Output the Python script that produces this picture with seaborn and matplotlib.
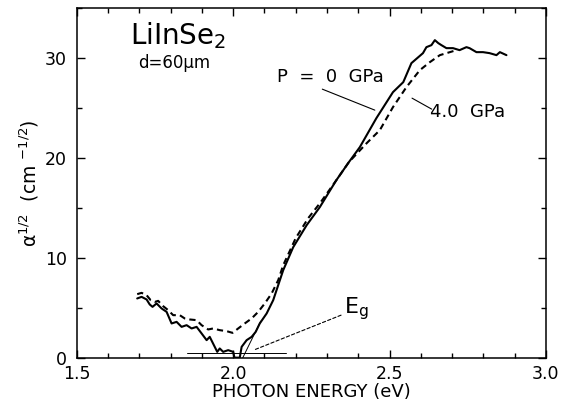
import matplotlib
matplotlib.use("Agg")
import matplotlib.pyplot as plt
from matplotlib.ticker import MultipleLocator
import seaborn as sns
import pandas as pd

# ---- data ----
p0_energy = [1.693, 1.707, 1.723, 1.733, 1.742, 1.755, 1.771, 1.787, 1.803, 1.819,
             1.835, 1.851, 1.867, 1.883, 1.899, 1.915, 1.925, 1.941, 1.949, 1.957,
             1.968, 1.984, 2.000, 2.004, 2.021, 2.027, 2.043, 2.059, 2.072, 2.085,
             2.107, 2.128, 2.144, 2.160, 2.192, 2.235, 2.277, 2.330, 2.370, 2.405,
             2.458, 2.511, 2.544, 2.570, 2.607, 2.618, 2.634, 2.645, 2.656, 2.666,
             2.682, 2.703, 2.724, 2.746, 2.756, 2.778, 2.799, 2.820, 2.842, 2.853,
             2.874]
p0_alpha = [5.97, 6.13, 5.87, 5.37, 5.13, 5.47, 4.97, 4.63, 3.47, 3.63,
            3.13, 3.30, 2.97, 3.13, 2.47, 1.80, 2.13, 1.13, 0.63, 0.97,
            0.63, 0.80, 0.63, 0.05, 0.05, 1.13, 1.80, 2.13, 2.63, 3.47,
            4.47, 5.80, 7.30, 8.80, 11.1, 13.3, 15.1, 17.8, 19.6, 21.1,
            24.0, 26.6, 27.6, 29.5, 30.5, 31.1, 31.3, 31.8, 31.5, 31.3,
            31.0, 31.0, 30.8, 31.1, 31.0, 30.6, 30.6, 30.5, 30.3, 30.6,
            30.3]

p4_energy = [1.693, 1.707, 1.723, 1.736, 1.750, 1.760, 1.776, 1.792, 1.808, 1.829,
             1.845, 1.861, 1.883, 1.899, 1.920, 1.936, 1.957, 1.979, 1.998, 2.016,
             2.037, 2.059, 2.080, 2.101, 2.123, 2.144, 2.160, 2.200, 2.240, 2.280,
             2.330, 2.370, 2.427, 2.469, 2.511, 2.554, 2.597, 2.629, 2.661, 2.693,
             2.714]
p4_alpha = [6.40, 6.53, 6.30, 5.80, 5.63, 5.73, 5.20, 4.80, 4.30, 4.30,
            3.97, 3.87, 3.80, 3.30, 2.87, 2.97, 2.80, 2.70, 2.53, 2.97,
            3.47, 3.97, 4.63, 5.47, 6.47, 7.80, 9.30, 12.0, 14.0, 15.6,
            17.8, 19.6, 21.5, 22.8, 25.1, 27.1, 28.8, 29.6, 30.3, 30.6,
            30.8]

baseline_x = [1.851, 2.168]
baseline_y = [0.55, 0.55]
tangent_x = [2.030, 2.088]
tangent_y = [0.0, 3.7]

x_ticks = [1.5, 2.0, 2.5, 3.0]
x_ticklabels = ["1.5", "2.0", "2.5", "3.0"]
y_ticks = [0, 10, 20, 30]
y_ticklabels = ["0", "10", "20", "30"]

df = pd.concat([
    pd.DataFrame({"E": p0_energy, "a": p0_alpha, "P": "0 GPa"}),
    pd.DataFrame({"E": p4_energy, "a": p4_alpha, "P": "4.0 GPa"}),
])

sns.set_style("ticks")
plt.rcParams["font.family"] = ["DejaVu Sans"]
plt.rcParams["text.color"] = "black"
plt.rcParams["axes.labelcolor"] = "black"

fig = plt.figure(figsize=(5.61, 4.07), dpi=100)
ax = fig.add_axes([0.137, 0.120, 0.836, 0.860])

sns.lineplot(data=df, x="E", y="a", hue="P", style="P",
             palette=["black", "black"], dashes=[(None, None), (3, 2)],
             linewidth=1.5, legend=False, ax=ax, sort=False, estimator=None)

ax.plot(baseline_x, baseline_y, color="black", lw=0.7)
ax.plot(tangent_x, tangent_y, color="black", lw=0.7)

ax.set_xlim(1.5, 3.0)
ax.set_ylim(0, 35)
ax.set_xticks(x_ticks)
ax.set_xticklabels(x_ticklabels)
ax.set_yticks(y_ticks)
ax.set_yticklabels(y_ticklabels)
ax.xaxis.set_minor_locator(MultipleLocator(0.1))
ax.yaxis.set_minor_locator(MultipleLocator(5))
ax.tick_params(which="both", direction="in", top=True, right=True, labelsize=12.5,
               width=1, color="black", labelcolor="black")
ax.tick_params(which="major", length=6, pad=7)
ax.tick_params(axis="x", which="major", pad=5)
ax.tick_params(which="minor", length=3.5)
for s in ax.spines.values():
    s.set_visible(True)
    s.set_linewidth(1.1)
    s.set_color("black")

ax.set_xlabel("PHOTON ENERGY (eV)", fontsize=13, labelpad=0)
ax.set_ylabel("α$^{1/2}$  (cm $^{-1/2}$)", fontsize=13.5, labelpad=3)

ax.text(1.67, 32.3, r"LiInSe$_2$", fontsize=20, ha="left", va="center")
ax.text(1.695, 29.5, "d=60μm", fontsize=12, ha="left", va="center")
ax.text(2.14, 28.1, "P  =  0  GPa", fontsize=13, ha="left", va="center")
ax.text(2.63, 24.6, "4.0  GPa", fontsize=13, ha="left", va="center")
ax.text(2.355, 5.0, r"E$_{\mathrm{g}}$", fontsize=16, ha="left", va="center")

ax.annotate("", xy=(2.453, 24.8), xytext=(2.285, 26.9),
            arrowprops=dict(arrowstyle="-", lw=0.8, color="black", shrinkA=0, shrinkB=0))
ax.annotate("", xy=(2.572, 26.0), xytext=(2.635, 24.9),
            arrowprops=dict(arrowstyle="-", lw=0.8, color="black", shrinkA=0, shrinkB=0))
ax.annotate("", xy=(2.065, 0.8), xytext=(2.345, 4.3),
            arrowprops=dict(arrowstyle="-", lw=0.8, ls=(0, (3, 2)), color="black",
                            shrinkA=0, shrinkB=0))

fig.savefig("out.png", dpi=100)
